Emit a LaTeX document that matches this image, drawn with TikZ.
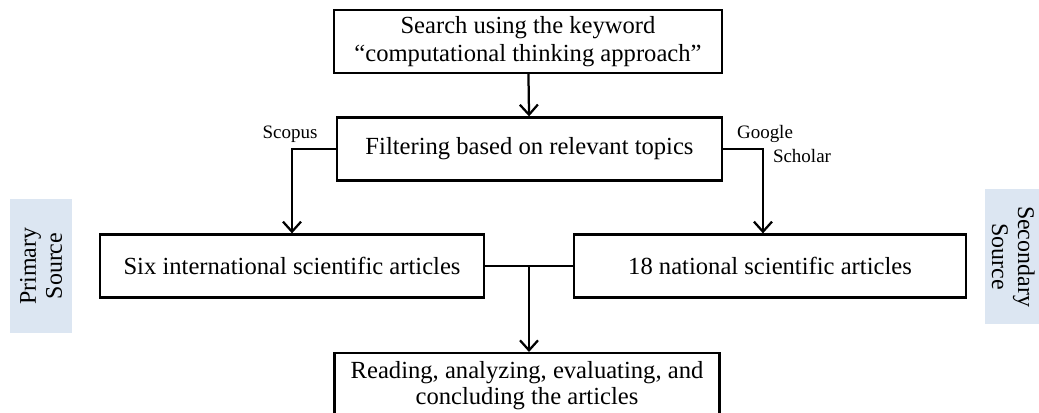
\documentclass[tikz,border=0pt]{standalone}
\usepackage{fontspec}
\setmainfont{Liberation Serif}
\usetikzlibrary{arrows.meta,calc}
\definecolor{srcblue}{HTML}{DCE6F2}
\tikzset{
  flowbox/.style={draw, line width=1.6pt, align=center, inner sep=2pt,
    minimum height=1.575cm, font=\fontsize{17.5}{19.5}\selectfont},
  flowline/.style={line width=1.6pt},
  flowarrow/.style={line width=1.6pt, -{Straight Barb[length=2.5mm,width=4.5mm,line width=1.6pt]}},
  dblabel/.style={font=\fontsize{13.5}{14}\selectfont, inner sep=0pt},
  srcbox/.style={fill=srcblue, minimum width=1.55cm, minimum height=3.35cm},
  srctext/.style={align=center, font=\fontsize{17}{18.5}\selectfont}
}
\begin{document}
\begin{tikzpicture}[x=0.025cm, y=-0.025cm]
  \useasboundingbox (0,0) rectangle (1039,413);

  % main steps
  \node[flowbox, minimum width=9.7cm] (search) at (528, 41.5)
    {Search using the keyword\\``computational thinking approach''};
  \node[flowbox, minimum width=9.625cm] (filter) at (529.5, 149)
    {Filtering based on relevant topics};
  \node[flowbox, minimum width=9.6cm] (six) at (292, 266)
    {Six international scientific articles};
  \node[flowbox, minimum width=9.8cm] (national) at (770, 266)
    {18 national scientific articles};
  \node[flowbox, minimum width=9.625cm, inner ysep=6pt, anchor=north,
        font=\fontsize{17.5}{18.5}\selectfont] (final) at (527, 352)
    {Reading, analyzing, evaluating, and\\concluding the articles\\[20pt]};

  % sources
  \node[srcbox] (primary) at (41, 266) {};
  \node[srctext, rotate=90] (primarytxt) at (primary.center) {Primary\\Source};
  \node[srcbox] (secondary) at (1016, 256.5) {};
  \node[srctext, rotate=-90] (secondarytxt) at ([xshift=-2]secondary.center) {Secondary\\Source};

  % connectors
  \draw[flowarrow] (search) -- (filter);
  \draw[flowarrow] (filter.west) -| (six.north);
  \draw[flowarrow] (filter.east) -| ([xshift=-5]national.north);
  \coordinate (join) at ($(six.east)!0.5!(national.west)$);
  \draw[flowline] (six.east) -- (national.west);
  \draw[flowarrow] (join) -- (join |- final.north);

  % database labels
  \node[dblabel] (scopus) at (290, 134) {Scopus};
  \node[dblabel] (google) at (765, 134) {Google};
  \node[dblabel] (scholar) at (802, 156) {Scholar};
\end{tikzpicture}
\end{document}
